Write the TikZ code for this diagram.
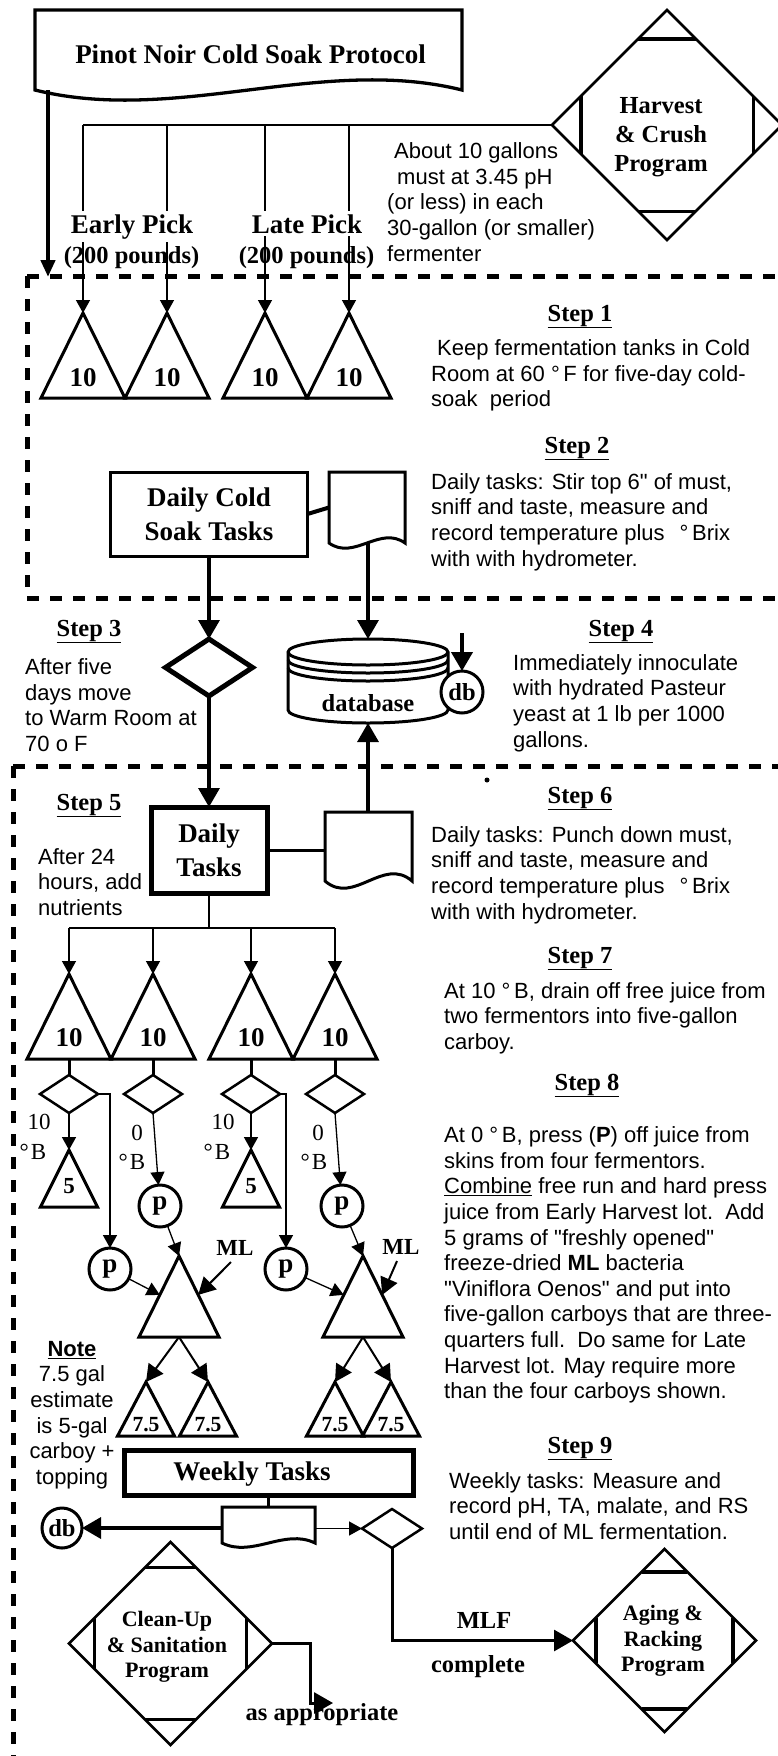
\documentclass[tikz,border=0pt]{standalone}
\usepackage{fontspec}
\setmainfont{Liberation Serif}
\setsansfont{Liberation Sans}[Ligatures=TeXOff]
\usetikzlibrary{arrows.meta,calc,shapes.geometric}
\newcommand\mytri[5]{%
  \coordinate (#1) at (#2,#3);
  \coordinate (#1-b) at (#2,{#3+#5});
  \coordinate (#1-bl) at ({#2-#4},{#3+#5});
  \coordinate (#1-br) at ({#2+#4},{#3+#5});
  \draw[trishape] (#1) -- (#1-br) -- (#1-bl) -- cycle;}
\newcommand\mydoc[7]{%
  \node[ghost,minimum width=#4pt,minimum height=#5pt] (#1) at (#2,#3) {};
  \draw[line width=#7pt,fill=white,line join=miter] (#1.south west) -- (#1.north west) -- (#1.north east) -- (#1.south east)
    .. controls ($(#1.south east)+({-0.33*#4},{-#6})$) and ($(#1.south west)+({0.33*#4},{#6})$) .. (#1.south west) -- cycle;}
\newcommand\proglines[1]{%
  \draw[progline] ($(#1.north)!0.25!(#1.west)$) -- ($(#1.north)!0.25!(#1.east)$);
  \draw[progline] ($(#1.south)!0.25!(#1.west)$) -- ($(#1.south)!0.25!(#1.east)$);
  \draw[progline] ($(#1.west)!0.25!(#1.north)$) -- ($(#1.west)!0.25!(#1.south)$);
  \draw[progline] ($(#1.east)!0.25!(#1.north)$) -- ($(#1.east)!0.25!(#1.south)$);}
\begin{document}
\begin{tikzpicture}[x=1pt,y=-1pt,
  ghost/.style={inner sep=0pt,outer sep=0pt},
  trishape/.style={line width=3pt,line join=miter},
  progline/.style={line width=3.5pt},
  dashbox/.style={line width=5pt,dash pattern=on 12pt off 11pt},
  thinln/.style={line width=1.3pt},
  medln/.style={line width=2pt},
  ahs/.style={-{Triangle[length=13pt,width=14pt]}},
  ahm/.style={-{Triangle[length=17pt,width=18pt]}},
  ahb/.style={-{Triangle[length=19pt,width=21pt]}},
  fT/.style={font=\fontsize{27}{34}\selectfont\bfseries},
  fH/.style={font=\fontsize{24.5}{29}\selectfont\bfseries},
  fP/.style={font=\fontsize{22}{25.7}\selectfont\bfseries},
  fR/.style={font=\fontsize{23}{27}\selectfont},
  fB/.style={font=\fontsize{23}{27}\selectfont\bfseries},
  fS/.style={font=\fontsize{21.6}{25}\selectfont\bfseries},
  fD/.style={font=\fontsize{22}{25.6}\selectfont\sffamily},
  steph/.style={fH,anchor=base,inner sep=0pt},
  descr/.style={fD,align=left,anchor=west,inner sep=0pt},
  pcirc/.style={circle,draw,line width=3pt,ghost,minimum size=42pt,fill=white,fT},
]
\fill[white] (0,0) rectangle (777,1756);
\useasboundingbox (0,0) rectangle (777,1756);

% dashed regions
\draw[dashbox] (27,276) -- (790,276);
\draw[dashbox] (27,276) -- (27,598) -- (790,598);
\draw[dashbox] (13,766) -- (790,766);
\draw[dashbox] (13,766) -- (13,1770);
\fill (487,780) circle[radius=2.5pt];

% title
\mydoc{title}{248.5}{50}{427}{80}{35}{3.3}
\node[fT,anchor=base] (titletxt) at (250.5,63) {Pinot Noir Cold Soak Protocol};
\coordinate (tarr) at (48,277);
\draw[line width=4.5pt,-{Triangle[length=17pt,width=14pt]}] (tarr |- title.south) -- (tarr);

% harvest
\node[diamond,draw,line width=2.7pt,ghost,minimum width=230pt,minimum height=230pt] (harvest) at (667,125) {};
\proglines{harvest}
\node[fH,align=center] (harvesttxt) at (661,137) {Harvest\\\& Crush\\Program};
\node[descr] (harvnote) at (387,202) {\hspace*{7pt}About 10 gallons\\\hspace*{10pt}must at 3.45 pH\\(or less) in each\\30-gallon (or smaller)\\fermenter};

% row 1 tanks
\mytri{t1}{83}{313}{42}{85}
\mytri{t2}{167}{313}{42}{85}
\mytri{t3}{265}{313}{42}{85}
\mytri{t4}{349}{313}{42}{85}
\draw[thinln] (harvest.west) -- (t1 |- harvest.west);
\foreach \nm in {t1,t2,t3,t4}{\draw[thinln,ahs] (\nm |- harvest.west) -- (\nm);}
\node[fT,anchor=base,fill=white,inner sep=3pt] (early) at (132,233) {Early Pick};
\node[fH,anchor=base] (earlyw) at (131.5,263) {(200 pounds)};
\node[fT,anchor=base,fill=white,inner sep=3pt] (late) at (307,233) {Late Pick};
\node[fH,anchor=base] (latew) at (306.5,263) {(200 pounds)};
\foreach \nm/\xx in {t1/83,t2/167,t3/265,t4/349}{\node[fT] (\nm-lab) at (\xx,378) {10};}

% steps 1-2
\node[steph] (s1h) at (580,321) {\underline{Step 1}};
\node[descr] (s1t) at (431,375.5) {\hspace*{6pt}Keep fermentation tanks in Cold\\Room at 60 °\,F for five-day cold-\\soak\ \ period};
\node[steph] (s2h) at (577,453) {\underline{Step 2}};
\node[descr] (s2t) at (431,522) {Daily tasks: Stir top 6" of must,\\sniff and taste, measure and\\record temperature plus\hspace{15pt}°\,Brix\\with with hydrometer.};

\node[draw,line width=3pt,fT,align=center,ghost,minimum width=197pt,minimum height=84pt] (dcs) at (209,514) {Daily Cold\\Soak Tasks};
\mydoc{doc2}{367}{507.5}{76}{71}{18}{3}
\draw[line width=4pt] (dcs.east) -- (doc2.west);

% decision
\node[diamond,draw,line width=5pt,ghost,minimum width=87pt,minimum height=57pt] (dd) at (209,667.5) {};
\draw[line width=3.3pt,ahb] (dcs.south) -- (dd.north);

% database
\node[ghost,minimum width=160pt,minimum height=84pt] (dbase) at (368,681) {};
\draw[line width=3pt,fill=white] (288,652) -- (288,710) arc[start angle=180,end angle=360,x radius=80pt,y radius=13pt] -- (448,652) arc[start angle=0,end angle=180,x radius=80pt,y radius=13pt] -- cycle;
\draw[line width=3pt] (288,652) arc[start angle=180,end angle=360,x radius=80pt,y radius=13pt];
\draw[line width=3pt] (288,660) arc[start angle=180,end angle=360,x radius=80pt,y radius=13pt];
\draw[line width=3pt] (288,668) arc[start angle=180,end angle=360,x radius=80pt,y radius=13pt];
\node[fH] (dbtxt) at (368,703) {database};
\draw[line width=3.3pt,ahb] (dbase.north |- doc2.south) -- (dbase.north);
\node[circle,draw,line width=3pt,ghost,minimum size=42pt,fill=white,fH] (db1) at (462,692) {db};
\coordinate (db1in) at (462,633);
\draw[line width=4pt,ahb] (db1in) -- (db1.north);

% steps 3-4
\node[steph] (s3h) at (89,636) {\underline{Step 3}};
\node[descr] (s3t) at (25,705) {After five\\days move\\to Warm Room at\\70 o F};
\node[steph] (s4h) at (621,636) {\underline{Step 4}};
\node[descr] (s4t) at (513,703) {Immediately innoculate\\with hydrated Pasteur\\yeast at 1 lb per 1000\\gallons.};

% daily tasks
\node[draw,line width=5pt,fT,align=center,ghost,minimum width=116pt,minimum height=86pt] (dt) at (209,850) {Daily\\Tasks};
\draw[line width=3.3pt,ahb] (dd.south) -- (dt.north);
\mydoc{doc6}{368.5}{846.5}{87}{69}{25}{3}
\draw[line width=3pt] (dt.east) -- (dt.east -| doc6.west);
\draw[line width=3.3pt,ahb] (dbase.south |- doc6.north) -- (dbase.south);

% steps 5-8 texts
\node[steph] (s5h) at (89,810) {\underline{Step 5}};
\node[descr] (s5t) at (38,882) {After 24\\hours, add\\nutrients};
\node[steph] (s6h) at (580,803) {\underline{Step 6}};
\node[descr] (s6t) at (431,875) {Daily tasks: Punch down must,\\sniff and taste, measure and\\record temperature plus\hspace{15pt}°\,Brix\\with with hydrometer.};
\node[steph] (s7h) at (580,963) {\underline{Step 7}};
\node[descr] (s7t) at (444,1018) {At 10 °\,B, drain off free juice from\\two fermentors into five-gallon\\carboy.};
\node[steph] (s8h) at (587,1090) {\underline{Step 8}};
\node[descr] (s8t) at (444,1265) {At 0 °\,B, press (\textbf{P}) off juice from\\skins from four fermentors.\\\underline{Combine} free run and hard press\\juice from Early Harvest lot.\ \ Add\\5 grams of "freshly opened"\\freeze-dried \textbf{ML} bacteria\\"Viniflora Oenos" and put into\\five-gallon carboys that are three-\\quarters full.\ \ Do same for Late\\Harvest lot. May require more\\than the four carboys shown.};

% row 2 tanks
\mytri{u1}{69}{974}{42}{85}
\mytri{u2}{153}{974}{42}{85}
\mytri{u3}{251}{974}{42}{85}
\mytri{u4}{335}{974}{42}{85}
\coordinate (br2) at (209,928);
\draw[thinln] (dt.south) -- (br2);
\draw[thinln] (u1 |- br2) -- (u4 |- br2);
\foreach \nm in {u1,u2,u3,u4}{\draw[thinln,ahs] (\nm |- br2) -- (\nm);}
\foreach \nm/\xx in {u1/69,u2/153,u3/251,u4/335}{\node[fT] (\nm-lab) at (\xx,1038) {10};}

\foreach \nm/\xx in {d1/69,d2/153,d3/251,d4/335}{\node[diamond,draw,line width=2.5pt,ghost,minimum width=58pt,minimum height=38pt] (\nm) at (\xx,1094) {};}
\draw[line width=3pt] (u1-b) -- (d1.north);
\draw[line width=3pt] (u2-b) -- (d2.north);
\draw[line width=3pt] (u3-b) -- (d3.north);
\draw[line width=3pt] (u4-b) -- (d4.north);

\node[fR] (lab1a) at (39,1122) {10};
\node[fR] (lab1b) at (33,1152) {°\hspace{2pt}B};
\node[fR] (lab2a) at (137,1133) {0};
\node[fR] (lab2b) at (132,1162) {°\hspace{2pt}B};
\node[fR] (lab3a) at (223,1122) {10};
\node[fR] (lab3b) at (217,1152) {°\hspace{2pt}B};
\node[fR] (lab4a) at (318,1133) {0};
\node[fR] (lab4b) at (314,1162) {°\hspace{2pt}B};

% press circles
\node[pcirc] (pU1) at (160,1206) {p};
\node[pcirc] (pL1) at (110,1269) {p};
\node[pcirc] (pU2) at (342,1206) {p};
\node[pcirc] (pL2) at (286,1269) {p};

% 5-gallon
\mytri{f1}{69}{1150}{28.5}{57}
\mytri{f2}{251}{1150}{28.5}{57}
\node[fB] (f1-lab) at (69,1186) {5};
\node[fB] (f2-lab) at (251,1186) {5};

% ML tanks
\mytri{m1}{179}{1256}{40}{81}
\mytri{m2}{363}{1256}{40}{81}
\coordinate (m1L) at ($(m1)!0.48!(m1-bl)$);
\coordinate (m1R) at ($(m1)!0.48!(m1-br)$);
\coordinate (m2L) at ($(m2)!0.48!(m2-bl)$);
\coordinate (m2R) at ($(m2)!0.48!(m2-br)$);

\draw[line width=1.5pt,ahs] (d1.east) -| (pL1.north);
\draw[line width=1.5pt,ahs] (d3.east) -| (pL2.north);
\draw[line width=1.5pt,ahs] (d1.south) -- (f1);
\draw[line width=1.5pt,ahs] (d3.south) -- (f2);
\draw[thinln,ahs] (d2.south) -- (pU1);
\draw[thinln,ahs] (d4.south) -- (pU2);
\draw[thinln,ahs] (pU1) -- (m1);
\draw[thinln,ahs] (pU2) -- (m2);
\draw[thinln,ahs] (pL1) -- (m1L);
\draw[thinln,ahs] (pL2) -- (m2L);
\node[fB] (ml1) at (235,1248) {ML};
\node[fB] (ml2) at (401,1247) {ML};
\draw[medln,ahm] ($(ml1.south)+(-4,3)$) -- (m1R);
\draw[medln,ahm] ($(ml2.south)+(-4,3)$) -- (m2R);

% carboys
\mytri{s1}{146}{1382}{28.5}{54}
\mytri{s2}{208}{1382}{28.5}{54}
\mytri{s3}{335}{1382}{28.5}{54}
\mytri{s4}{391}{1382}{28.5}{54}
\draw[medln,ahm] (m1-b) -- (s1);
\draw[medln,ahm] (m1-b) -- (s2);
\draw[medln,ahm] (m2-b) -- (s3);
\draw[medln,ahm] (m2-b) -- (s4);
\foreach \nm/\xx in {s1/146,s2/208,s3/335,s4/391}{\node[fS] (\nm-lab) at (\xx,1425) {7.5};}

% note
\node[fD,align=center,inner sep=0pt] (note) at (72,1415) {\underline{\textbf{Note}}\\7.5 gal\\estimate\\is 5-gal\\carboy +\\topping};

% weekly
\node[draw,line width=5pt,ghost,minimum width=289pt,minimum height=45pt] (weekly) at (268.5,1472.5) {};
\node[fT] (weeklytxt) at (252,1474) {Weekly Tasks};
\mydoc{sd}{268.5}{1525}{93}{36}{15}{3}
\draw[line width=3pt] (weekly.south) -- (sd.north);
\node[circle,draw,line width=3pt,ghost,minimum size=40pt,fill=white,fH] (db2) at (62,1528) {db};
\draw[line width=3.5pt,ahb] (sd.west |- db2) -- (db2);
\node[diamond,draw,line width=2.5pt,ghost,minimum width=60pt,minimum height=39pt] (sdia) at (392,1528.5) {};
\draw[line width=1.5pt,ahs] (sd.east |- sdia.west) -- (sdia.west);

\node[steph] (s9h) at (580,1453) {\underline{Step 9}};
\node[descr] (s9t) at (449,1506) {Weekly tasks: Measure and\\record pH, TA, malate, and RS\\until end of ML fermentation.};

% programs
\node[diamond,draw,line width=2.7pt,ghost,minimum width=203pt,minimum height=203pt] (cleanup) at (170.5,1643.5) {};
\proglines{cleanup}
\node[fP,align=center] (cleanuptxt) at (167,1647) {Clean-Up\\\& Sanitation\\Program};
\node[diamond,draw,line width=2.7pt,ghost,minimum width=183pt,minimum height=183pt] (aging) at (664.5,1640.5) {};
\proglines{aging}
\node[fP,align=center] (agingtxt) at (663,1641) {Aging \&\\Racking\\Program};

\draw[line width=3pt,ahb] (sdia.south) |- (aging.west);
\node[fH] (mlf) at (484,1620) {MLF};
\node[fH] (compl) at (478,1667) {complete};
\coordinate (cuend) at (333,1703);
\node[fH] (asapp) at (322,1715) {as appropriate};
\draw[line width=3pt,ahb] (cleanup.east) -- ++(38,0) |- (cuend);
\end{tikzpicture}
\end{document}
